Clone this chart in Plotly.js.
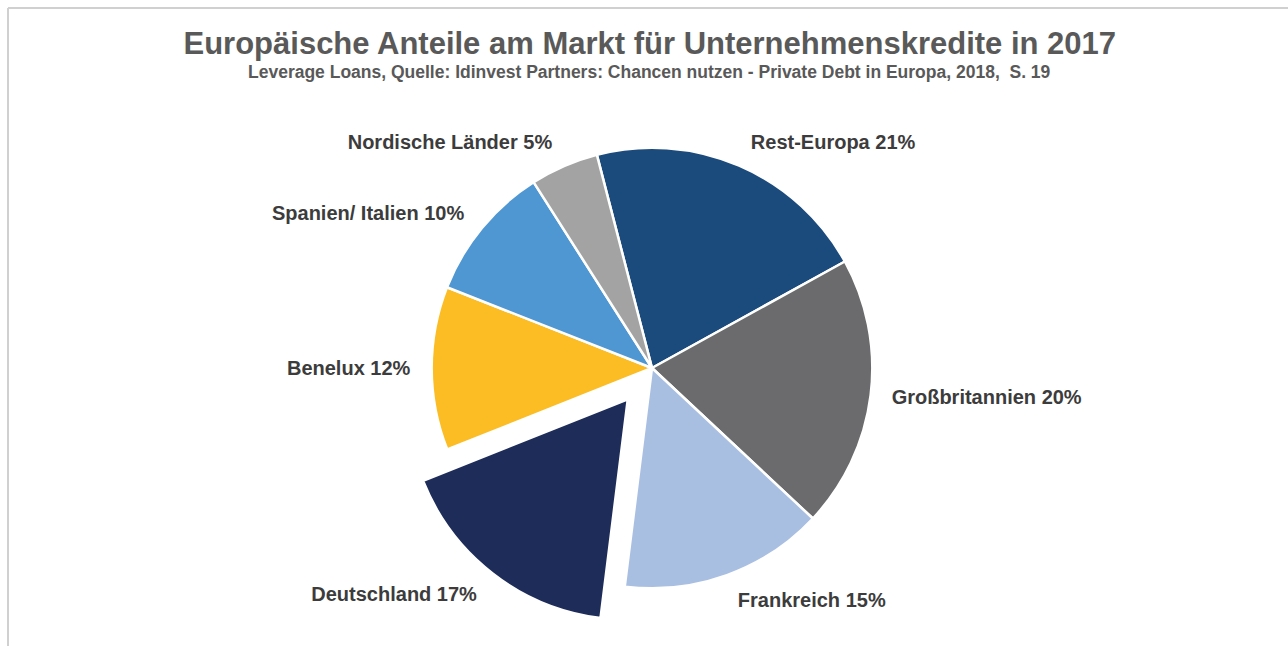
<!DOCTYPE html>
<html><head><meta charset="utf-8">
<script src="https://cdn.plot.ly/plotly-3.0.1.min.js"></script>
<style>html,body{margin:0;padding:0;background:#fff;}#chart{width:1288px;height:646px;}</style>
</head><body><div id="chart"></div>
<script>
const labels = ["Rest-Europa", "Großbritannien", "Frankreich", "Deutschland", "Benelux", "Spanien/ Italien", "Nordische Länder"];
const values = [21, 20, 15, 17, 12, 10, 5];
const colors = ["#1b4a7c", "#6b6b6d", "#a8bfe2", "#1d2c58", "#fcbd24", "#4e97d3", "#a3a3a3"];
const pulls = [0, 0, 0, 0.18, 0, 0, 0];
const labelPulls = [0, 0, 0, 0.174, 0, 0, 0];
const titleText = "Europäische Anteile am Markt für Unternehmenskredite in 2017";
const subtitleText = "Leverage Loans, Quelle: Idinvest Partners: Chancen nutzen - Private Debt in Europa, 2018,  S. 19";

const fontFam = "Liberation Sans, Arial, sans-serif";

// label layer: same pie, transparent, slightly larger so labels sit further out
const labelTrace = {
  type: "pie",
  labels: labels,
  values: values,
  sort: false,
  direction: "clockwise",
  rotation: -14.5,
  pull: labelPulls,
  marker: {colors: labels.map(() => "rgba(0,0,0,0)"), line: {width: 0}},
  texttemplate: "%{label} %{percent:.0%}",
  textposition: "outside",
  outsidetextfont: {family: fontFam, size: 20, color: "#3c3c3c", weight: "bold"},
  hoverinfo: "skip",
  domain: {x: [0.29115, 0.72127], y: [0.00155, 0.8591]},
  showlegend: false
};

const pieTrace = {
  type: "pie",
  labels: labels,
  values: values,
  sort: false,
  direction: "clockwise",
  rotation: -14.5,
  pull: pulls,
  marker: {colors: colors, line: {color: "#ffffff", width: 2.5}},
  textinfo: "none",
  hoverinfo: "label+percent",
  domain: {x: [0.2733, 0.7391], y: [0.0279, 0.8328]},
  showlegend: false
};

const layout = {
  width: 1288, height: 646,
  margin: {l: 0, r: 0, t: 0, b: 0},
  paper_bgcolor: "#ffffff",
  showlegend: false,
  title: {
    text: "<b>" + titleText + "</b>",
    font: {family: fontFam, size: 31, color: "#595959"},
    x: 0.5045, xanchor: "center", yref: "container", y: 0.9334, yanchor: "middle"
  },
  annotations: [
    {text: "<b>" + subtitleText + "</b>", xref: "paper", yref: "paper", x: 0.5045, y: 0.8885,
     xanchor: "center", yanchor: "middle", showarrow: false,
     font: {family: fontFam, size: 17.5, color: "#595959"}}
  ],
  shapes: [
    {type: "line", xref: "paper", yref: "paper", x0: 8/1288, x1: 8/1288, y0: 0, y1: 1-8/646, line: {color: "#d0d0d0", width: 2}},
    {type: "line", xref: "paper", yref: "paper", x0: 8/1288, x1: 1, y0: 1-8/646, y1: 1-8/646, line: {color: "#d0d0d0", width: 2}}
  ]
};

Plotly.newPlot("chart", [labelTrace, pieTrace], layout, {displayModeBar: false, staticPlot: true});
</script></body></html>
